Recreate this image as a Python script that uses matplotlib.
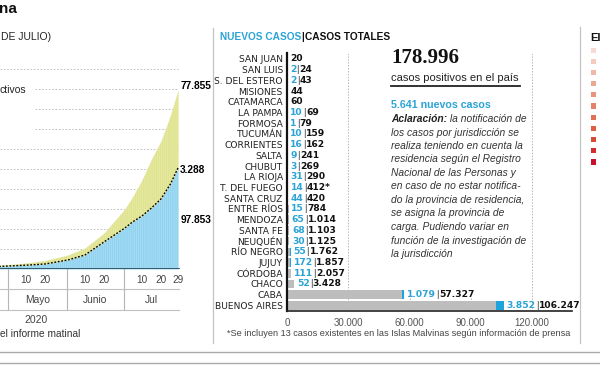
import numpy as np
import matplotlib
matplotlib.use("Agg")
import matplotlib.pyplot as plt
import matplotlib.transforms as mtransforms
from matplotlib.patches import Rectangle
from matplotlib.lines import Line2D
from matplotlib.text import Annotation

plt.rcParams["font.family"] = ["Liberation Sans", "DejaVu Sans"]
plt.rcParams["hatch.linewidth"] = 0.5

# evolution of cases (left panel)
fechas = ["2020-04-25", "2020-05-01", "2020-05-10", "2020-05-20", "2020-06-01",
          "2020-06-10", "2020-06-20", "2020-07-01", "2020-07-05", "2020-07-10",
          "2020-07-15", "2020-07-20", "2020-07-25", "2020-07-29"]
activos = [2310, 2780, 3500, 4620, 8470, 13300, 26070, 39700, 45500, 51200,
           58900, 67600, 82200, 97853]
fallecidos = [190, 220, 300, 380, 530, 700, 930, 1300, 1500, 1800,
              2100, 2400, 2800, 3288]
recuperados = [1200, 1500, 2200, 3500, 5000, 7000, 9000, 19000, 25000, 36000,
               49000, 58000, 69000, 77855]

tick_fechas = ["2020-05-10", "2020-05-20", "2020-06-10", "2020-06-20",
               "2020-07-10", "2020-07-20", "2020-07-29"]
tick_labels = ["10", "20", "10", "20", "10", "20", "29"]
meses = ["Mayo", "Junio", "Jul"]
inicio_meses = ["2020-05-01", "2020-06-01", "2020-07-01", "2020-07-30"]
grid_vals = [20000, 40000, 60000, 80000, 100000, 120000, 140000, 160000, 180000, 200000]
grid_start_px = [0, 0, 0, 0, 0, 0, 35, 35, 35, 0]

# cases by province (middle panel)
provincias = ["SAN JUAN", "SAN LUIS", "S. DEL ESTERO", "MISIONES", "CATAMARCA",
              "LA PAMPA", "FORMOSA", "TUCUMÁN", "CORRIENTES", "SALTA", "CHUBUT",
              "LA RIOJA", "T. DEL FUEGO", "SANTA CRUZ", "ENTRE RÍOS", "MENDOZA",
              "SANTA FE", "NEUQUÉN", "RÍO NEGRO", "JUJUY", "CÓRDOBA", "CHACO",
              "CABA", "BUENOS AIRES"]
nuevos = [0, 2, 2, 0, 0, 10, 1, 10, 16, 9, 3, 31, 14, 44, 15, 65, 68, 30, 55,
          172, 111, 52, 1079, 3852]
totales = [20, 24, 43, 44, 60, 69, 79, 159, 162, 241, 269, 290, 412, 420, 784,
           1014, 1103, 1125, 1762, 1857, 2057, 3428, 57327, 106247]
notas = {"T. DEL FUEGO": "*"}
x_ticks = [0, 30000, 60000, 90000, 120000]

legend_colores = ["#f6dbd4", "#f3cbbf", "#efb9a8", "#eba792", "#e8957d", "#e48368",
                  "#e07155", "#dc5e44", "#d74a33", "#d22c2c", "#c8102e"]

aclaracion = ["los casos por jurisdicción se",
              "realiza teniendo en cuenta la",
              "residencia según el Registro",
              "Nacional de las Personas y",
              "en caso de no estar notifica-",
              "do la provincia de residencia,",
              "se asigna la provincia de",
              "carga. Pudiendo variar en",
              "función de la investigación de",
              "la jurisdicción"]

CYAN = "#2ba3d6"
GRAY_TXT = "#444444"
W, H = 600, 365


def fx(px):
    return px / W


def fy(py):
    return 1 - py / H


def fmt(v):
    return f"{v:,}".replace(",", ".")


def dias(s):
    return (np.array(s, dtype="datetime64[D]") - np.datetime64("2020-05-01")).astype(float)


fig = plt.figure(figsize=(6, 3.65), dpi=100)


def ftext(px, py, s, **kw):
    kw.setdefault("va", "center")
    return fig.text(fx(px), fy(py), s, **kw)


def after(prev, s, gap=0.0, **kw):
    a = Annotation(s, xy=(1, 0), xycoords=prev, xytext=(gap, 0),
                   textcoords="offset points", va="bottom", ha="left", **kw)
    fig.add_artist(a)
    return a


# ---------------- left panel ----------------
PX_DAY = 1.9
ax1 = fig.add_axes([0, fy(269), 180 / W, 200 / H])
ax1.set_xlim(-8 / PX_DAY, 172 / PX_DAY)
ax1.set_ylim(0, 200000)
for s in ax1.spines.values():
    s.set_visible(False)
ax1.set_yticks([])

x = dias(fechas) + 0.5
blue_top = np.array(activos) + np.array(fallecidos)
total = blue_top + np.array(recuperados)

for g, st in zip(grid_vals, grid_start_px):
    ax1.hlines(g, (st - 8) / PX_DAY, 170 / PX_DAY, color="#b8b8b8", lw=0.6,
               linestyles=(0, (2, 2)), zorder=1)

ax1.fill_between(x, 0, blue_top, color="#8fd3f0", lw=0, zorder=2)
ax1.fill_between(x, blue_top, total, color="#dfe38d", lw=0, zorder=2)
ax1.fill_between(x, 0, total, facecolor="none", edgecolor=(1, 1, 1, 0.28),
                 hatch="||||||||", lw=0, zorder=2.5)
ax1.plot(x, blue_top, color="black", lw=1.0, ls=(0, (1.3, 1.2)), zorder=3)
ax1.axhline(0, color="#2e4d5c", lw=2, zorder=4)

ax1.set_xticks(dias(tick_fechas) + 0.5, tick_labels)
ax1.tick_params(axis="x", length=0, pad=4.5, labelsize=7.2, labelcolor=GRAY_TXT)

lab_kw = dict(textcoords="offset points", fontsize=7.3, fontweight="bold",
              va="center", ha="left", annotation_clip=False)
ax1.annotate(fmt(recuperados[-1]), (x[-1], total[-1]), xytext=(1.5, 3), **lab_kw)
ax1.annotate(fmt(fallecidos[-1]), (x[-1], blue_top[-1]), xytext=(1.5, -1.5), **lab_kw)
ax1.annotate(fmt(activos[-1]), (x[-1], activos[-1] / 2), xytext=(1.5, 0), **lab_kw)

trans = mtransforms.blended_transform_factory(ax1.transData, fig.transFigure)
lim = dias(inicio_meses)
for d in lim[:3]:
    ax1.plot([d, d], [fy(269), fy(310)], transform=trans, color="#b5b5b5",
             lw=0.8, clip_on=False)
for py in (289, 310):
    ax1.plot([ax1.get_xlim()[0], lim[-1]], [fy(py), fy(py)], transform=trans,
             color="#c0c0c0", lw=0.8, clip_on=False)
for m, a, b in zip(meses, lim[:-1], lim[1:]):
    ax1.text((a + b) / 2, fy(300), m, transform=trans, ha="center", va="center",
             fontsize=7.4, color=GRAY_TXT)

ftext(-1, 9, "na", fontsize=11, fontweight="bold", color="#111")
ftext(1, 37, "DE JULIO)", fontsize=7.5, color="#222")
ftext(0, 90, "ctivos", fontsize=7.5, color="#222")
ftext(36, 320, "2020", fontsize=7.5, color=GRAY_TXT, ha="center")
ftext(0, 334, "el informe matinal", fontsize=7.3, color="#333")

# ---------------- middle panel ----------------
ax2 = fig.add_axes([fx(287), fy(310.8), 285 / W, (310.8 - 53.5) / H])
n = len(provincias)
rows = np.arange(n)
ax2.set_xlim(0, 285 * 120000 / 245)
ax2.set_ylim(n - 0.5, -0.5)
base = np.array(totales) - np.array(nuevos)
ax2.barh(rows, base, height=0.8, color="#bdbdbd", zorder=2)
ax2.barh(rows, nuevos, left=base, height=0.8, color="#1fa3dc", zorder=2)
ax2.vlines(x_ticks[1:], -0.5, n - 0.5, color="#b5b5b5", lw=0.7,
           linestyles=(0, (1.5, 1.5)), zorder=0.5)
ax2.add_patch(Rectangle((fx(385), fy(298)), 140 / W, (298 - 45) / H,
                        transform=fig.transFigure, facecolor="white",
                        edgecolor="none", zorder=0.8))
for k in ("top", "right"):
    ax2.spines[k].set_visible(False)
ax2.spines["left"].set_linewidth(1.6)
ax2.spines["bottom"].set_linewidth(1.2)
ax2.spines["left"].set_color("#111")
ax2.spines["bottom"].set_color("#222")
ax2.set_yticks(rows, provincias)
ax2.set_xticks(x_ticks, [fmt(v) for v in x_ticks])
ax2.tick_params(axis="y", length=0, pad=3, labelsize=6.7, labelcolor="#222")
ax2.tick_params(axis="x", length=0, pad=5, labelsize=7, labelcolor="#555")
for lab in ax2.get_yticklabels():
    lab.set_fontfamily(["DejaVu Sans"])
    lab.set_fontsize(6.6)

num_kw = dict(fontsize=6.6, fontweight="bold", family=["DejaVu Sans"])
for i, (p, nv, tt) in enumerate(zip(provincias, nuevos, totales)):
    txt_total = fmt(tt) + notas.get(p, "")
    if nv > 0:
        t = ax2.annotate(fmt(nv), (tt, i), xytext=(2, 0), textcoords="offset points",
                         va="center", ha="left", color=CYAN, **num_kw)
        t = after(t, "|", gap=0.3, fontsize=6.6, color="#333")
        after(t, txt_total, gap=0.3, color="#111", **num_kw)
    else:
        ax2.annotate(txt_total, (tt, i), xytext=(2.5, 0), textcoords="offset points",
                     va="center", ha="left", color="#111", **num_kw)

t = ftext(220, 37, "NUEVOS CASOS", fontsize=7.3, fontweight="bold", color=CYAN)
t = after(t, "|", gap=0.3, fontsize=7.3, fontweight="bold", color="#111")
after(t, "CASOS TOTALES", gap=0.3, fontsize=7.3, fontweight="bold", color="#111")

ftext(391, 58, fmt(sum(totales)), fontsize=15, fontweight="bold",
      family=["Liberation Serif", "DejaVu Serif"], color="#111")
ftext(391, 78, "casos positivos en el país", fontsize=8, color="#222")
fig.add_artist(Line2D([fx(391), fx(520)], [fy(86), fy(86)], color="#222", lw=1.3))
ftext(391, 105, fmt(sum(nuevos)) + " nuevos casos", fontsize=7.7,
      fontweight="bold", color=CYAN)
t = ftext(391, 119, "Aclaración:", fontsize=7.4, fontweight="bold",
          style="italic", color="#222")
after(t, " la notificación de", fontsize=7.4, style="italic", color="#333")
for k, line in enumerate(aclaracion):
    ftext(391, 132.5 + k * 13.5, line, fontsize=7.4, style="italic", color="#333")

ftext(227, 334, "*Se incluyen 13 casos existentes en las Islas Malvinas según "
      "información de prensa", fontsize=6.6, color=GRAY_TXT)

# ---------------- right panel ----------------
ftext(590, 38, "El", fontsize=8, fontweight="bold", color="#111")
for k, c in enumerate(legend_colores):
    fig.add_artist(Rectangle((fx(591), fy(50 + k * 11.2 + 2.5)), 5 / W, 5 / H,
                             transform=fig.transFigure, facecolor=c,
                             edgecolor="none"))

# frame lines
for px, y0, y1 in ((213, 28, 343), (580, 27, 343)):
    fig.add_artist(Line2D([fx(px), fx(px)], [fy(y0), fy(y1)], color="#c4c4c4", lw=0.9))
for py in (352, 363):
    fig.add_artist(Line2D([0, 1], [fy(py), fy(py)], color="#aaaaaa", lw=1))

fig.savefig("out.png", dpi=100)
